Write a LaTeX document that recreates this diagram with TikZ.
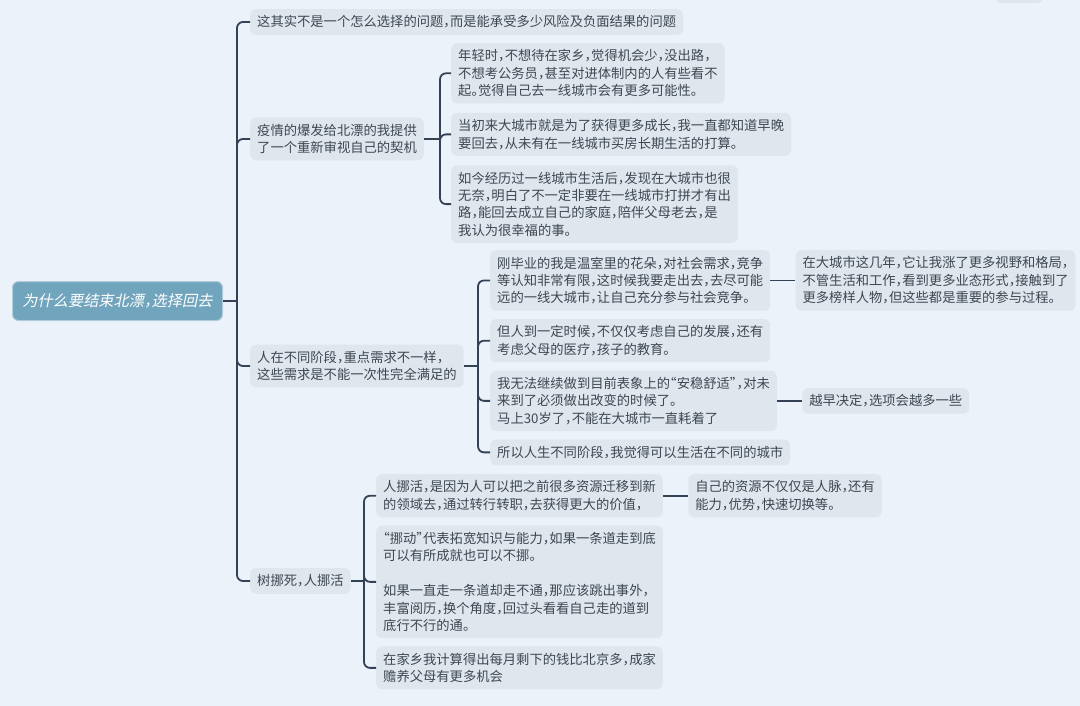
\documentclass[tikz,border=0pt]{standalone}
\usepackage{fontspec}
\setmainfont{Noto Sans CJK SC}[RawFeature=+halt]
\newfontfamily\slantcjk{Noto Sans CJK SC}[FakeSlant=0.2,RawFeature=+halt]
\usepackage{tikz}
\usetikzlibrary{positioning,calc}
\definecolor{bg}{RGB}{235,242,249}
\definecolor{card}{RGB}{223,230,238}
\definecolor{ink}{RGB}{62,70,82}
\definecolor{wire}{RGB}{52,66,86}
\definecolor{rootc}{RGB}{113,165,189}

\begin{document}
\begin{tikzpicture}[x=1pt,y=-1pt,
leaf/.style={fill=card,text=ink,rounded corners=6pt,align=left,inner xsep=7pt,inner ysep=6.5pt,font=\fontsize{13.3}{17.4}\selectfont},
root/.style={fill=rootc,draw=rootc!55!white,line width=1pt,rounded corners=6pt,inner xsep=10pt,minimum height=39pt,text=white,font=\fontsize{15.2}{17}\selectfont\slantcjk},
link/.style={draw=wire,line width=1.8pt,rounded corners=6pt}
]
\fill[bg] (0,0) rectangle (1080,706);
\useasboundingbox (0,0) rectangle (1080,706);
\fill[card,rounded corners=5pt] (996,-20) rectangle (1043,3);

\node[root,anchor=west] (root) at (12,301) {为什么要结束北漂，选择回去};

\node[leaf,anchor=west] (l1a) at (250,22) {这其实不是一个怎么选择的问题，而是能承受多少风险及负面结果的问题};
\node[leaf,anchor=west] (l1b) at (250,139) {疫情的爆发给北漂的我提供\\了一个重新审视自己的契机};
\node[leaf,anchor=west] (l1c) at (250,366) {人在不同阶段，重点需求不一样，\\这些需求是不能一次性完全满足的};
\node[leaf,anchor=west] (l1d) at (250,581) {树挪死，人挪活};

\node[leaf,anchor=north west] (b1) at (451,43) {年轻时，不想待在家乡，觉得机会少，没出路，\\不想考公务员，甚至对进体制内的人有些看不\\起。觉得自己去一线城市会有更多可能性。};
\node[leaf,below=9pt of b1.south west,anchor=north west] (b2) {当初来大城市就是为了获得更多成长，我一直都知道早晚\\要回去，从未有在一线城市买房长期生活的打算。};
\node[leaf,below=9pt of b2.south west,anchor=north west] (b3) {如今经历过一线城市生活后，发现在大城市也很\\无奈，明白了不一定非要在一线城市打拼才有出\\路，能回去成立自己的家庭，陪伴父母老去，是\\我认为很幸福的事。};

\node[leaf,anchor=north west] (c1) at (490,250) {刚毕业的我是温室里的花朵，对社会需求，竞争\\等认知非常有限，这时候我要走出去，去尽可能\\远的一线大城市，让自己充分参与社会竞争。};
\node[leaf,right=25pt of c1] (c1x) {在大城市这几年，它让我涨了更多视野和格局，\\不管生活和工作，看到更多业态形式，接触到了\\更多榜样人物，但这些都是重要的参与过程。};
\node[leaf,below=8pt of c1.south west,anchor=north west] (c2) {但人到一定时候，不仅仅考虑自己的发展，还有\\考虑父母的医疗，孩子的教育。};
\node[leaf,below=8pt of c2.south west,anchor=north west] (c3) {我无法继续做到目前表象上的“安稳舒适”，对未\\来到了必须做出改变的时候了。\\马上30岁了，不能在大城市一直耗着了};
\node[leaf,right=25pt of c3] (c3x) {越早决定，选项会越多一些};
\node[leaf,below=8pt of c3.south west,anchor=north west] (c4) {所以人生不同阶段，我觉得可以生活在不同的城市};

\node[leaf,anchor=north west] (d1) at (376,474) {人挪活，是因为人可以把之前很多资源迁移到新\\的领域去，通过转行转职，去获得更大的价值，};
\node[leaf,right=25pt of d1] (d1x) {自己的资源不仅仅是人脉，还有\\能力，优势，快速切换等。};
\node[leaf,below=8pt of d1.south west,anchor=north west] (d2) {“挪动”代表拓宽知识与能力，如果一条道走到底\\可以有所成就也可以不挪。\\[17.4pt]如果一直走一条道却走不通，那应该跳出事外，\\丰富阅历，换个角度，回过头看看自己走的道到\\底行不行的通。};
\node[leaf,below=8pt of d2.south west,anchor=north west] (d3) {在家乡我计算得出每月剩下的钱比北京多，成家\\赡养父母有更多机会};

\coordinate (hub0) at ($(root.east -| l1a.west)+(-13pt,0)$);
\coordinate (hub1) at ($(l1b.east -| b1.west)+(-11pt,0)$);
\coordinate (hub2) at ($(l1c.east -| c1.west)+(-12pt,0)$);
\coordinate (hub3) at ($(l1d.east -| d1.west)+(-12pt,0)$);

\draw[link] (root.east) -- (hub0);
\foreach \n in {l1a,l1b,l1c,l1d} \draw[link] (hub0) |- (\n.west);
\draw[link] (l1b.east) -- (hub1);
\foreach \n in {b1,b2,b3} \draw[link] (hub1) |- (\n.west);
\draw[link] (l1c.east) -- (hub2);
\foreach \n in {c1,c2,c3,c4} \draw[link] (hub2) |- (\n.west);
\draw[link] (l1d.east) -- (hub3);
\foreach \n in {d1,d2,d3} \draw[link] (hub3) |- (\n.west);
\draw[link] (c1) -- (c1x);
\draw[link] (c3) -- (c3x);
\draw[link] (d1) -- (d1x);
\end{tikzpicture}
\end{document}
